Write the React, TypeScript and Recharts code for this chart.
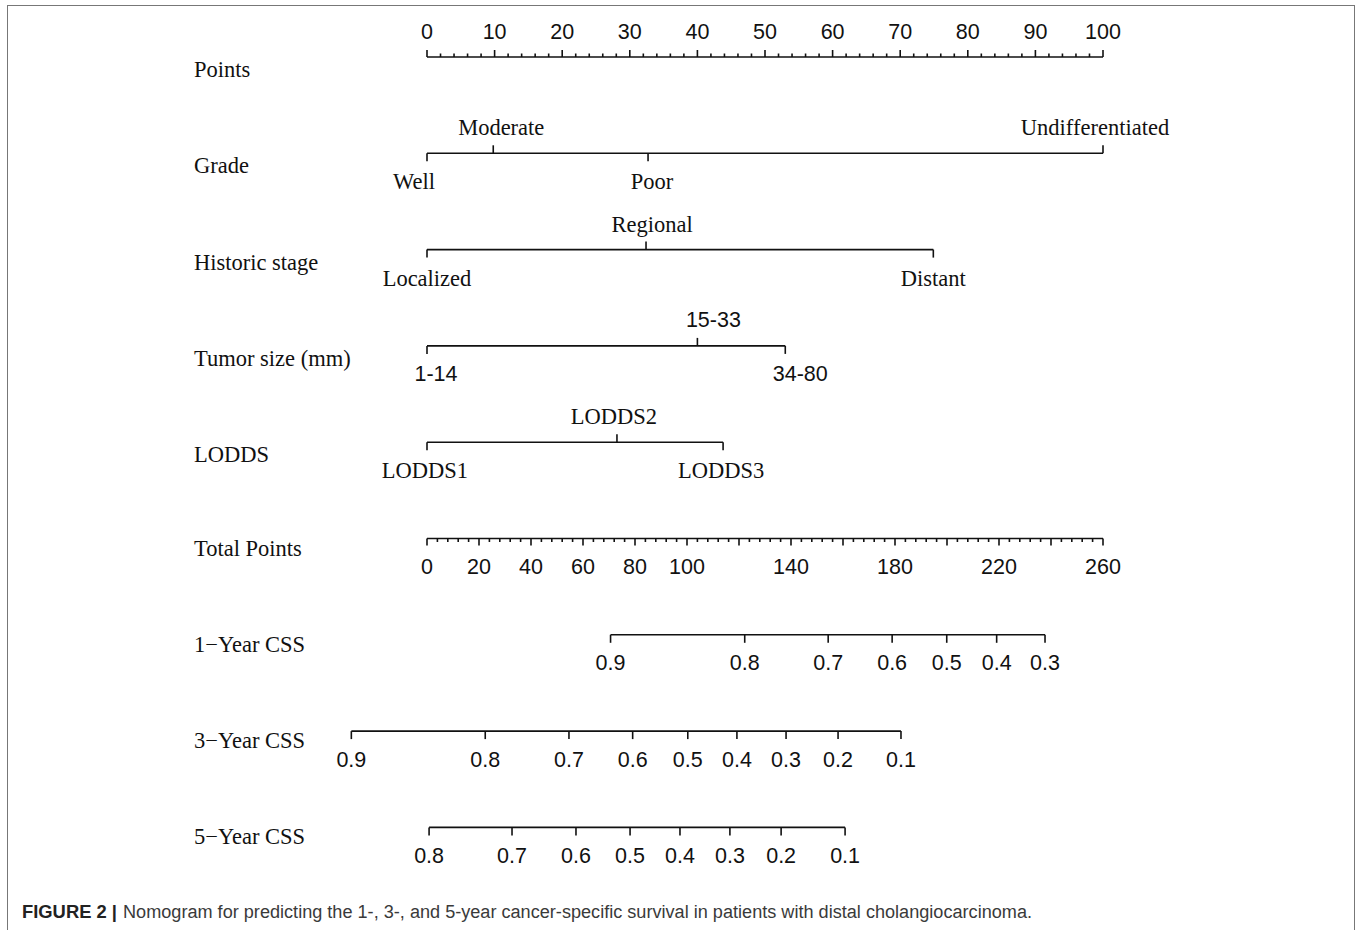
import React from "react";
import { ScatterChart, Scatter, XAxis, YAxis } from "recharts";

// ---- data ----
const rowNames = [
  "Points",
  "Grade",
  "Historic stage",
  "Tumor size (mm)",
  "LODDS",
  "Total Points",
  "1\u2212Year CSS",
  "3\u2212Year CSS",
  "5\u2212Year CSS",
];

const gradeLevels = ["Well", "Moderate", "Poor", "Undifferentiated"];
const gradePoints = [0, 9.8, 32.7, 100];

const stageLevels = ["Localized", "Regional", "Distant"];
const stagePoints = [0, 32.4, 74.9];

const sizeLevels = ["1-14", "15-33", "34-80"];
const sizePoints = [0, 40, 53];

const loddsLevels = ["LODDS1", "LODDS2", "LODDS3"];
const loddsPoints = [0, 28.1, 43.8];

const pointsMax = 100;
const pointsMajorStep = 10;
const pointsMinorStep = 2;

const totalMax = 260;
const totalMajorStep = 20;
const totalMinorStep = 4;
const totalLabels = [0, 20, 40, 60, 80, 100, 140, 180, 220, 260];

const css1Labels = ["0.9", "0.8", "0.7", "0.6", "0.5", "0.4", "0.3"];
const css1Total = [70.6, 122.2, 154.3, 178.9, 199.9, 219.1, 237.7];

const css3Labels = ["0.9", "0.8", "0.7", "0.6", "0.5", "0.4", "0.3", "0.2", "0.1"];
const css3Total = [-29.1, 22.4, 54.6, 79.1, 100.3, 119.2, 138.1, 158.1, 182.3];

const css5Labels = ["0.8", "0.7", "0.6", "0.5", "0.4", "0.3", "0.2", "0.1"];
const css5Total = [0.8, 32.7, 57.3, 78.1, 97.3, 116.5, 136.2, 160.8];

// ---- layout ----
const W = 1358;
const H = 930;
const X0 = 427; // pixel of 0 points
const X100 = 1103; // pixel of 100 points
const ROW0 = 57;
const ROW_GAP = 96.3;
const LABEL_X = 194;
const pxPerPoint = (X100 - X0) / 100;
const xDomain = [-X0 / pxPerPoint, (W - X0) / pxPerPoint];
const yDomain = [-ROW0 / ROW_GAP, (H - ROW0) / ROW_GAP];

// horizontal nudges (px) of some level labels, as placed in the original figure
const labelShift: Record<string, number> = {
  Well: -13,
  Moderate: 8,
  Poor: 4,
  Undifferentiated: -8,
  Regional: 6,
  "1-14": 9,
  "15-33": 16,
  "34-80": 15,
  LODDS2: -3,
  LODDS1: -2,
  LODDS3: -2,
};

const SERIF = "'Liberation Serif', 'Times New Roman', serif";
const SANS = "'Liberation Sans', Arial, sans-serif";
const INK = "#111";

const toPoints = (tp: number) => (tp * pointsMax) / totalMax;

type Pt = {
  x: number;
  y: number;
  label?: string;
  len: number;
  up: boolean;
  font: string;
  shift?: number;
};

function levelRow(row: number, levels: string[], pts: number[], font: string): Pt[] {
  return levels.map((l, i) => ({
    x: pts[i],
    y: row,
    label: l,
    len: 8,
    up: i % 2 === 1,
    font,
    shift: labelShift[l] || 0,
  }));
}

function pointsRow(): Pt[] {
  const out: Pt[] = [];
  for (let v = 0; v <= pointsMax; v += pointsMinorStep) {
    const major = v % pointsMajorStep === 0;
    out.push({ x: v, y: 0, label: major ? String(v) : undefined, len: major ? 7 : 3.5, up: true, font: SANS });
  }
  return out;
}

function totalRow(): Pt[] {
  const out: Pt[] = [];
  for (let v = 0; v <= totalMax; v += totalMinorStep) {
    const major = v % totalMajorStep === 0;
    out.push({
      x: toPoints(v),
      y: 5,
      label: totalLabels.includes(v) ? String(v) : undefined,
      len: major ? 7 : 3.5,
      up: false,
      font: SANS,
    });
  }
  return out;
}

function cssRow(row: number, labels: string[], total: number[]): Pt[] {
  return labels.map((l, i) => ({ x: toPoints(total[i]), y: row, label: l, len: 8, up: false, font: SANS }));
}

const rows: Pt[][] = [
  pointsRow(),
  levelRow(1, gradeLevels, gradePoints, SERIF),
  levelRow(2, stageLevels, stagePoints, SERIF),
  levelRow(3, sizeLevels, sizePoints, SANS),
  levelRow(4, loddsLevels, loddsPoints, SERIF),
  totalRow(),
  cssRow(6, css1Labels, css1Total),
  cssRow(7, css3Labels, css3Total),
  cssRow(8, css5Labels, css5Total),
];

const nameData = rowNames.map((n, i) => ({ x: (LABEL_X - X0) / pxPerPoint, y: i, name: n }));

const TickShape = (props: any) => {
  const { cx, cy, payload } = props;
  const p = payload as Pt;
  const y2 = p.up ? cy - p.len : cy + p.len;
  return (
    <g>
      <line x1={cx} x2={cx} y1={cy} y2={y2} stroke={INK} strokeWidth={1.6} />
      {p.label !== undefined && (
        <text
          x={cx + (p.shift || 0)}
          y={p.up ? cy - 25.5 : cy + 28.5}
          textAnchor="middle"
          dominantBaseline="central"
          fontFamily={p.font}
          fontSize={p.font === SERIF ? 22.5 : 21.5}
          fill={INK}
        >
          {p.label}
        </text>
      )}
    </g>
  );
};

const NameShape = (props: any) => {
  const { cx, cy, payload } = props;
  const off = payload.y < 5 ? 12.5 : 9.5;
  return (
    <text x={cx} y={cy + off} dominantBaseline="central" fontFamily={SERIF} fontSize={22.5} fill={INK}>
      {payload.name}
    </text>
  );
};

export default function App() {
  return (
    <div style={{ position: "absolute", left: 0, top: 0, width: W, height: H, background: "#fff", overflow: "hidden" }}>
      <div
        style={{
          position: "absolute",
          left: 7,
          top: 5,
          width: 1346,
          height: 960,
          border: "1.5px solid #777",
        }}
      />
      <div style={{ position: "absolute", left: 0, top: 0 }}>
        <ScatterChart width={W} height={H} margin={{ top: 0, right: 0, bottom: 0, left: 0 }}>
          <XAxis type="number" dataKey="x" domain={xDomain} allowDataOverflow hide />
          <YAxis type="number" dataKey="y" domain={yDomain} allowDataOverflow reversed hide />
          <Scatter data={nameData} shape={NameShape} isAnimationActive={false} />
          {rows.map((r, i) => (
            <Scatter
              key={i}
              data={r}
              shape={TickShape}
              line={{ stroke: INK, strokeWidth: 1.6 }}
              lineType="joint"
              isAnimationActive={false}
            />
          ))}
        </ScatterChart>
      </div>
      <svg width={W} height={H} style={{ position: "absolute", left: 0, top: 0, pointerEvents: "none" }}>
        <text x={22} y={917.5} fontFamily={SANS} fontSize={18} fontWeight="bold" fill="#222" textLength={95} lengthAdjust="spacingAndGlyphs">
          FIGURE 2 |
        </text>
        <text x={123} y={917.5} fontFamily={SANS} fontSize={18} fill="#3a3a3a" textLength={909} lengthAdjust="spacingAndGlyphs">
          Nomogram for predicting the 1-, 3-, and 5-year cancer-specific survival in patients with distal cholangiocarcinoma.
        </text>
      </svg>
    </div>
  );
}
